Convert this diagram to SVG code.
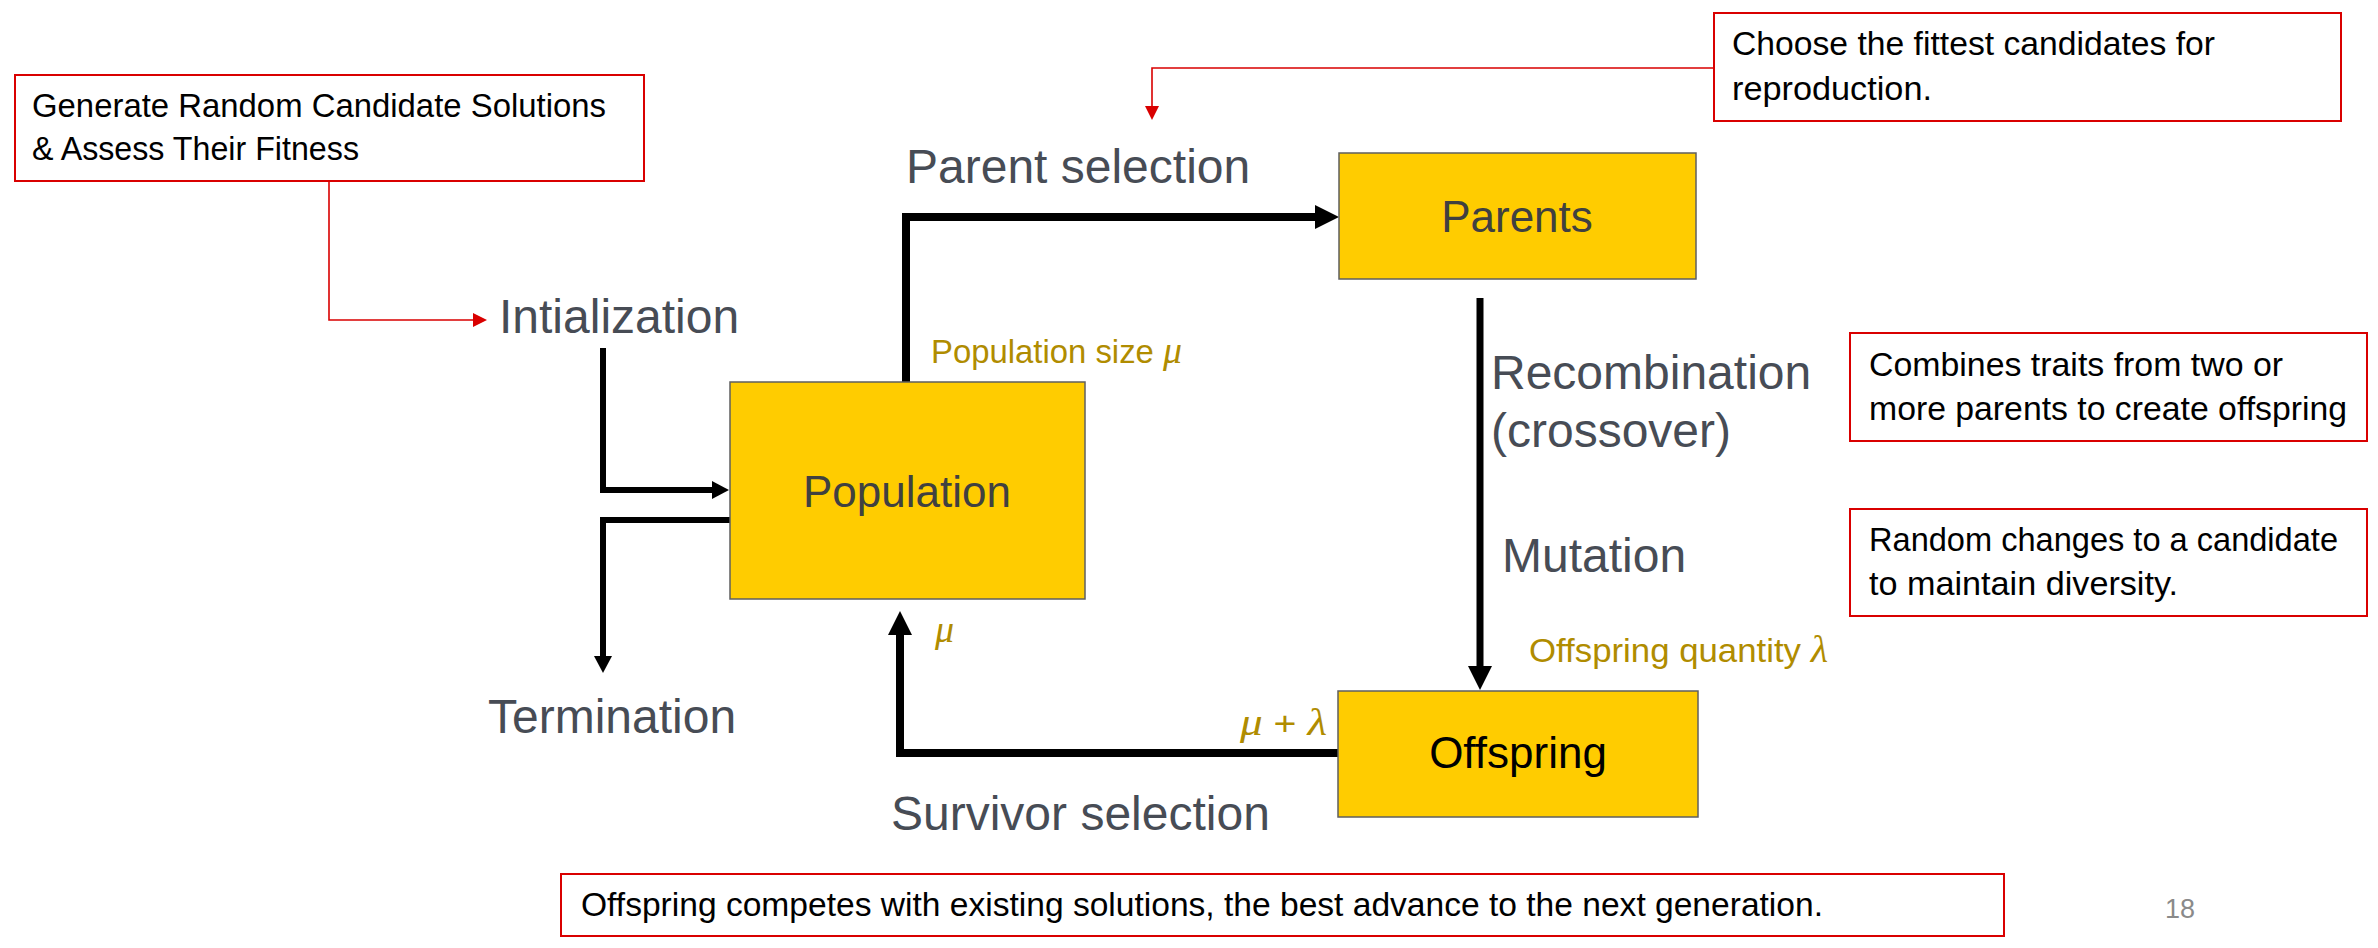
<svg xmlns="http://www.w3.org/2000/svg" width="2378" height="948" viewBox="0 0 2378 948">
<style>
  .bg{fill:#ffffff}
  .node{fill:#FFCC00;stroke:#5f5f5f;stroke-width:1.5}
  .note{fill:#ffffff;stroke:#D90000;stroke-width:2}
  .label{font-family:"Liberation Sans",Arial,sans-serif;font-size:48px;fill:#474C55}
  .nodetext{font-family:"Liberation Sans",Arial,sans-serif;font-size:44px;fill:#404040;text-anchor:middle}
  .notetext{font-family:"Liberation Sans",Arial,sans-serif;font-size:33px;fill:#000000}
  .gold{font-family:"Liberation Sans",Arial,sans-serif;font-size:33px;fill:#B08C00}
  .greek{font-family:"Liberation Serif","Times New Roman",serif;font-style:italic;font-size:38px}
  .conn{fill:none;stroke:#000000;stroke-linejoin:miter}
  .red{fill:none;stroke:#D90000;stroke-width:1.6}
</style>
<defs>
  <marker id="arrowBig" markerUnits="userSpaceOnUse" markerWidth="24" markerHeight="24" refX="0" refY="12" orient="auto">
    <path d="M0,0 L24,12 L0,24 z" fill="#000000"/>
  </marker>
  <marker id="arrowSmall" markerUnits="userSpaceOnUse" markerWidth="18" markerHeight="18" refX="0" refY="9" orient="auto">
    <path d="M0,0 L17,9 L0,18 z" fill="#000000"/>
  </marker>
  <marker id="arrowRed" markerUnits="userSpaceOnUse" markerWidth="15" markerHeight="15" refX="0" refY="7" orient="auto">
    <path d="M0,0 L14,7 L0,14 z" fill="#D90000"/>
  </marker>
</defs>
<rect class="bg" x="0" y="0" width="2378" height="948"/>

<g id="connectors">
  <path class="conn" stroke-width="6" d="M603,348 V490 H712" marker-end="url(#arrowSmall)"/>
  <path class="conn" stroke-width="6" d="M730,520 H603 V656" marker-end="url(#arrowSmall)"/>
  <path class="conn" stroke-width="8" d="M906,382 V217 H1315" marker-end="url(#arrowBig)"/>
  <path class="conn" stroke-width="7" d="M1480,298 V666" marker-end="url(#arrowBig)"/>
  <path class="conn" stroke-width="8" d="M1338,753 H900 V635" marker-end="url(#arrowBig)"/>
  <path class="red" d="M329,181 V320 H473" marker-end="url(#arrowRed)"/>
  <path class="red" d="M1714,68 H1152 V106" marker-end="url(#arrowRed)"/>
</g>

<g id="population">
  <rect class="node" x="730" y="382" width="355" height="217"/>
  <text class="nodetext" x="907" y="507">Population</text>
</g>
<g id="parents">
  <rect class="node" x="1339" y="153" width="357" height="126"/>
  <text class="nodetext" x="1517" y="232">Parents</text>
</g>
<g id="offspring">
  <rect class="node" x="1338" y="691" width="360" height="126"/>
  <text class="nodetext" x="1518" y="768" style="fill:#000000">Offspring</text>
</g>

<g id="labels">
  <text class="label" x="499" y="333">Intialization</text>
  <text class="label" x="488" y="733">Termination</text>
  <text class="label" x="906" y="183">Parent selection</text>
  <text class="label" x="1491" y="389">Recombination</text>
  <text class="label" x="1491" y="447">(crossover)</text>
  <text class="label" x="1502" y="572">Mutation</text>
  <text class="label" x="891" y="830">Survivor selection</text>
</g>

<g id="params">
  <text class="gold" x="931" y="363" textLength="251" lengthAdjust="spacingAndGlyphs">Population size <tspan class="greek">μ</tspan></text>
  <text class="gold greek" x="935" y="642">μ</text>
  <text class="gold" x="1529" y="662" textLength="299" lengthAdjust="spacingAndGlyphs">Offspring quantity  <tspan class="greek">λ</tspan></text>
  <text class="gold" x="1240" y="735" textLength="87" lengthAdjust="spacingAndGlyphs"><tspan class="greek">μ</tspan> + <tspan class="greek">λ</tspan></text>
</g>

<g id="note-init">
  <rect class="note" x="15" y="75" width="629" height="106"/>
  <text class="notetext" x="32" y="117" textLength="574" lengthAdjust="spacingAndGlyphs">Generate Random Candidate Solutions</text>
  <text class="notetext" x="32" y="160" textLength="327" lengthAdjust="spacingAndGlyphs">&amp; Assess Their Fitness</text>
</g>
<g id="note-parent">
  <rect class="note" x="1714" y="13" width="627" height="108"/>
  <text class="notetext" x="1732" y="55" textLength="483" lengthAdjust="spacingAndGlyphs">Choose the fittest candidates for</text>
  <text class="notetext" x="1732" y="100" textLength="200" lengthAdjust="spacingAndGlyphs">reproduction.</text>
</g>
<g id="note-recombination">
  <rect class="note" x="1850" y="333" width="517" height="108"/>
  <text class="notetext" x="1869" y="376" textLength="414" lengthAdjust="spacingAndGlyphs">Combines traits from two or</text>
  <text class="notetext" x="1869" y="420" textLength="478" lengthAdjust="spacingAndGlyphs">more parents to create offspring</text>
</g>
<g id="note-mutation">
  <rect class="note" x="1850" y="509" width="517" height="107"/>
  <text class="notetext" x="1869" y="551" textLength="469" lengthAdjust="spacingAndGlyphs">Random changes to a candidate</text>
  <text class="notetext" x="1869" y="595" textLength="309" lengthAdjust="spacingAndGlyphs">to maintain diversity.</text>
</g>
<g id="note-survivor">
  <rect class="note" x="561" y="874" width="1443" height="62"/>
  <text class="notetext" x="581" y="916" textLength="1242" lengthAdjust="spacingAndGlyphs">Offspring competes with existing solutions, the best advance to the next generation.</text>
</g>

<text x="2165" y="918" style="font-family:'Liberation Sans',Arial,sans-serif;font-size:27px;fill:#8a8a8a">18</text>
</svg>
